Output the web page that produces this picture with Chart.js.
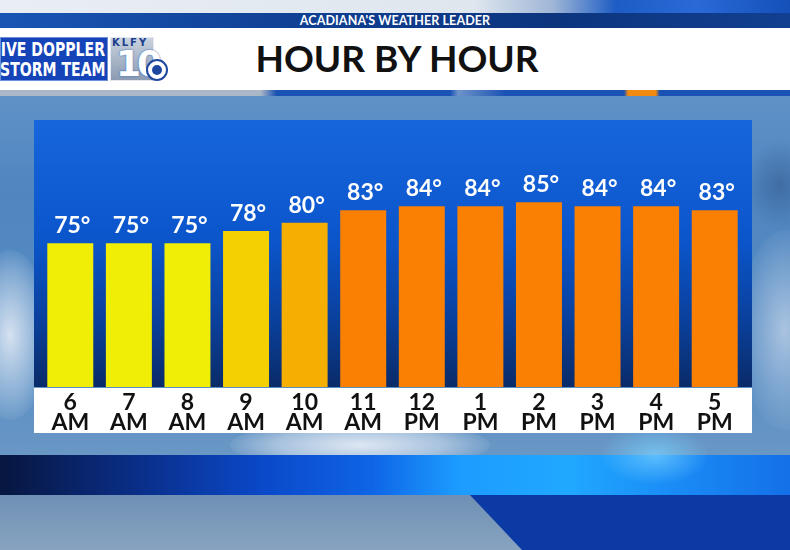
<!DOCTYPE html>
<html>
<head>
<meta charset="utf-8">
<script src="https://cdn.jsdelivr.net/npm/chart.js@4.4.0/dist/chart.umd.min.js"></script>
<style>
  html, body { margin: 0; padding: 0; }
  body { width: 790px; height: 550px; position: relative; overflow: hidden; font-family: Lato, "Open Sans", sans-serif;
    background: linear-gradient(180deg, #6f9ccc 0%, #4f86c0 35%, #5b8fc4 70%, #7ea3c6 100%); }
  .layer { position: absolute; }
  #topbar { left: 0; top: 0; width: 790px; height: 14px;
    background: linear-gradient(90deg, #e9eef4 0%, #dfe6ee 60%, #9fb6d6 70%, #1c5cc4 78%, #2a6ad8 88%, #1450b8 100%); }
  #band { left: 0; top: 13px; width: 790px; height: 16px;
    background: linear-gradient(90deg, #1a55b5 0%, #0f3f92 40%, #0c357e 70%, #123f90 100%); }
  #tagline { left: 0; top: 13px; width: 790px; height: 16px; line-height: 16px; text-align: center; color: #fff;
    font-weight: bold; font-size: 12.5px; letter-spacing: 0.1px; }
  #banner { left: 0; top: 28px; width: 790px; height: 62px; background: #fff; }
  #under { left: 0; top: 90px; width: 790px; height: 6px;
    background: linear-gradient(90deg, #aab7c6 0%, #aab7c6 33%, #1a52b4 35%, #1a52b4 57%, #6d92c8 58%, #1a52b4 64%, #1a52b4 79%, #f08a10 79.5%, #f08a10 83%, #1a52b4 83.5%, #1a52b4 100%); }
  #title { left: 0; top: 35px; width: 794px; text-align: center; font-weight: bold; font-size: 37px; color: #111; }
  #doppler { left: 0; top: 37px; width: 108px; height: 44px; background: #1544b8; border: 1px solid #6b8fd8; box-sizing: border-box; overflow: hidden; }
  .dl { position: absolute; right: 2px; color: #fff; font-family: "DejaVu Sans", sans-serif; font-weight: bold; font-size: 19px;
    transform: scaleX(0.74); transform-origin: right top; white-space: nowrap; }
  #klfy { left: 110px; top: 37px; width: 44px; height: 44px; background: linear-gradient(180deg, #c9d2de, #8b9bb3); border: 1px solid #e4e9f0; box-sizing: border-box; }
  #klfyt { left: 112px; top: 37px; font-size: 10px; font-weight: bold; color: #1b3f8e; letter-spacing: 2px; font-family: "DejaVu Sans", sans-serif; }
  #ten { left: 116px; top: 43px; font-size: 36px; font-weight: bold; color: #fff; font-family: "DejaVu Sans", sans-serif; letter-spacing: -4px;
    text-shadow: 0 0 2px #2f5bb0; }
  #eye { left: 146px; top: 59px; width: 22px; height: 22px; border-radius: 50%; background: #fff; border: 2px solid #1e48a0; box-sizing: border-box; }
  #pupil { left: 152px; top: 65px; width: 10px; height: 10px; border-radius: 50%; background: #1e48a0; }
  #cloud1 { left: 230px; top: 420px; width: 260px; height: 50px; border-radius: 50%; background: radial-gradient(ellipse at center, rgba(235,240,248,0.9) 0%, rgba(220,230,242,0.55) 45%, rgba(200,215,235,0) 75%); }
  #cloud2 { left: -30px; top: 250px; width: 80px; height: 170px; border-radius: 50%; background: radial-gradient(ellipse at center, rgba(235,240,248,0.85) 0%, rgba(210,225,240,0.4) 50%, rgba(200,215,235,0) 75%); }
  #cloud3 { left: 740px; top: 230px; width: 90px; height: 200px; border-radius: 50%; background: radial-gradient(ellipse at center, rgba(225,232,244,0.6) 0%, rgba(200,215,235,0.25) 50%, rgba(200,215,235,0) 75%); }
  #cloud4 { left: 745px; top: 140px; width: 70px; height: 90px; border-radius: 50%; background: radial-gradient(ellipse at center, rgba(40,70,120,0.4) 0%, rgba(40,70,120,0) 70%); }
  #strip { left: 0; top: 455px; width: 790px; height: 40px;
    background: linear-gradient(90deg, #07163f 0%, #0a2f8a 18%, #0a48c8 33%, #0f64e6 47%, #1c9cff 58%, #20a8ff 72%, #1a8cf6 85%, #1470e8 100%); }
  #glow { left: 600px; top: 425px; width: 110px; height: 60px; border-radius: 50%; background: radial-gradient(ellipse at center, rgba(120,210,255,0.7) 0%, rgba(80,190,255,0) 70%); }
  #floorL { left: 0; top: 495px; width: 790px; height: 55px; background: linear-gradient(180deg, #6f90b4, #87a3c0); }
  #floorR { left: 0; top: 495px; width: 790px; height: 55px; background: #0b3aa4; clip-path: polygon(470px 0, 790px 0, 790px 55px, 522px 55px); }
  #chartBox { left: 0; top: 0; width: 790px; height: 550px; }
</style>
</head>
<body>
<div class="layer" id="cloud2"></div>
<div class="layer" id="cloud3"></div>
<div class="layer" id="cloud4"></div>
<div class="layer" id="cloud1"></div>
<div class="layer" id="topbar"></div>
<div class="layer" id="band"></div>
<div class="layer" id="tagline">ACADIANA'S WEATHER LEADER</div>
<div class="layer" id="banner"></div>
<div class="layer" id="under"></div>
<div class="layer" id="title">HOUR BY HOUR</div>
<div class="layer" id="doppler">
  <div class="dl" style="top:0px">LIVE DOPPLER</div>
  <div class="dl" style="top:20px">STORM TEAM</div>
</div>
<div class="layer" id="klfy"></div>
<div class="layer" id="klfyt">KLFY</div>
<div class="layer" id="ten">10</div>
<div class="layer" id="eye"></div>
<div class="layer" id="pupil"></div>
<div class="layer" id="strip"></div>
<div class="layer" id="glow"></div>
<div class="layer" id="floorL"></div>
<div class="layer" id="floorR"></div>
<div class="layer" id="chartBox"><canvas id="hourChart" width="790" height="550"></canvas></div>

<script>
// hodiny a teploty
var hours = ['6', '7', '8', '9', '10', '11', '12', '1', '2', '3', '4', '5'];
var periods = ['AM', 'AM', 'AM', 'AM', 'AM', 'AM', 'PM', 'PM', 'PM', 'PM', 'PM', 'PM'];
var temps = [75, 75, 75, 78, 80, 83, 84, 84, 85, 84, 84, 83];

var labels = hours.map(function (h, i) { return [h, periods[i]]; });

function barColor(t) {
    if (t <= 75) return '#f0ee06';
    if (t <= 78) return '#f4cf02';
    if (t <= 80) return '#f5ae02';
    return '#fa8004';
}

// pozadi panelu + bily pruh pod sloupci
var panelPlugin = {
    id: 'panel',
    beforeDraw: function (chart) {
        var c = chart.ctx, a = chart.chartArea;
        var l = a.left - 7, r = a.right + 8;
        var g = c.createLinearGradient(0, a.top, 0, a.bottom);
        g.addColorStop(0, '#1766dc');
        g.addColorStop(0.45, '#0b55cb');
        g.addColorStop(0.75, '#0a409c');
        g.addColorStop(1, '#0a2b68');
        c.save();
        c.fillStyle = g;
        c.fillRect(l, a.top, r - l, a.bottom - a.top);
        c.fillStyle = '#ffffff';
        c.fillRect(l, a.bottom + 1, r - l, 45);
        c.restore();
    }
};

var valuePlugin = {
    id: 'values',
    afterDatasetsDraw: function (chart) {
        var c = chart.ctx;
        var meta = chart.getDatasetMeta(0);
        c.save();
        c.fillStyle = '#ffffff';
        c.font = 'bold 23px Lato';
        c.textAlign = 'center';
        c.textBaseline = 'alphabetic';
        meta.data.forEach(function (bar, i) {
            c.fillText(temps[i] + '°', bar.x + 2, bar.y - 10);
        });
        c.restore();
    }
};

var ctx = document.getElementById('hourChart').getContext('2d');
var chart = new Chart(ctx, {
    type: 'bar',
    data: {
        labels: labels,
        datasets: [{
            data: temps,
            backgroundColor: temps.map(barColor),
            borderWidth: 0,
            categoryPercentage: 1.0,
            barPercentage: 0.785
        }]
    },
    options: {
        responsive: false,
        animation: false,
        layout: { padding: { left: 41, right: 46, top: 120, bottom: 117 } },
        plugins: { legend: { display: false }, tooltip: { enabled: false } },
        scales: {
            y: { display: false, min: 40, max: 105 },
            x: {
                grid: { display: false, drawTicks: false },
                border: { display: false },
                ticks: {
                    color: '#111',
                    font: { family: 'Lato', weight: 'bold', size: 23, lineHeight: 0.9 },
                    padding: 5,
                    maxRotation: 0,
                    autoSkip: false
                },
                afterFit: function (scale) { scale.height = 46; }
            }
        }
    },
    plugins: [panelPlugin, valuePlugin]
});
</script>
</body>
</html>
